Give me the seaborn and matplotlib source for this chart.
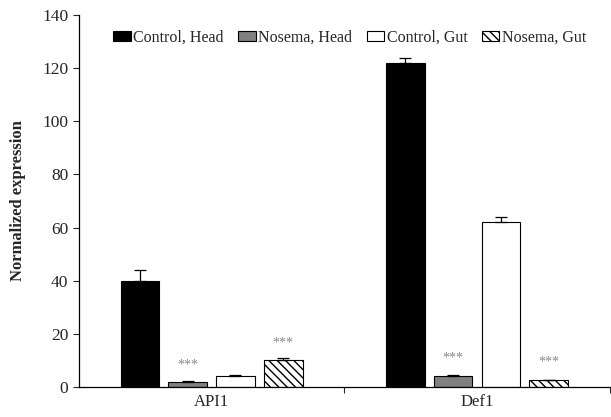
import pandas as pd
import seaborn as sns
import matplotlib.pyplot as plt
import numpy as np

# Data
genes = ['API1', 'Def1']
groups = ['Control, Head', 'Nosema, Head', 'Control, Gut', 'Nosema, Gut']
api1_vals = [40.0, 2.0, 4.3, 10.0]
api1_err = [4.0, 0.3, 0.3, 0.8]
def1_vals = [122.0, 4.2, 62.0, 2.5]
def1_err = [2.0, 0.4, 1.8, 0.3]
# y position of the *** markers (only on Nosema bars)
api1_star = [None, 5.8, None, 14.0]
def1_star = [None, 8.3, None, 6.8]

colors = ['black', '#808080', 'white', 'white']

df = pd.DataFrame({
    'gene': [g for g in genes for _ in groups],
    'group': groups * 2,
    'value': api1_vals + def1_vals,
    'err': api1_err + def1_err,
    'star': api1_star + def1_star,
})

sns.set_style('white')
plt.rcParams['font.family'] = ['Liberation Serif', 'DejaVu Serif']

fig, ax = plt.subplots(figsize=(6.11, 4.17), dpi=100)
fig.subplots_adjust(left=0.129, right=0.998, bottom=0.072, top=0.964)

sns.barplot(data=df, x='gene', y='value', hue='group', hue_order=groups,
            palette=colors, edgecolor='black', linewidth=0.8,
            width=0.72, gap=0.19, errorbar=None, ax=ax)

# hatch the Nosema, Gut bars and add one-sided error bars
bars = [p for p in ax.patches if p.get_height() > 0]
for i, grp in enumerate(groups):
    sub = df[df['group'] == grp]
    for j, (_, row) in enumerate(sub.iterrows()):
        p = bars[i * len(genes) + j]
        if grp == 'Nosema, Gut':
            p.set_hatch('\\\\\\\\')
        cx = p.get_x() + p.get_width() / 2
        ax.errorbar(cx, row['value'], yerr=[[0], [row['err']]], fmt='none',
                    ecolor='black', elinewidth=0.9, capsize=4, capthick=0.9)
        if row['star'] is not None and not pd.isna(row['star']):
            ax.text(cx, row['star'], '***', ha='center', va='bottom',
                    color='#888888', fontsize=10)

ax.set_ylim(0, 140)
ax.set_xlim(-0.5, 1.5)
ax.set_yticks(np.arange(0, 141, 20))
ax.set_xticks([0, 1])
ax.set_xticklabels(genes, fontsize=12)
ax.set_xticks([0.5, 1.5], minor=True)
ax.tick_params(axis='x', which='major', length=0, pad=5)
ax.tick_params(axis='x', which='minor', length=4, width=0.8, direction='out', bottom=True)
ax.tick_params(axis='y', length=4, width=0.8, direction='out', left=True, labelsize=12.5)
ax.set_xlabel('')
ax.set_ylabel('Normalized expression', fontsize=12, fontweight='bold', labelpad=12)

for s in ['top', 'right']:
    ax.spines[s].set_visible(False)
for s in ['left', 'bottom']:
    ax.spines[s].set_color('black')
    ax.spines[s].set_linewidth(0.9)

leg = ax.legend(loc='upper center', bbox_to_anchor=(0.51, 1.0), ncol=4,
                frameon=False, fontsize=11.5, handlelength=1.1, handleheight=0.6,
                handletextpad=0.15, columnspacing=0.9)
for h in leg.legend_handles:
    h.set_edgecolor('black')
leg.legend_handles[3].set_hatch('\\\\\\\\')

fig.savefig('out.png', dpi=100)
